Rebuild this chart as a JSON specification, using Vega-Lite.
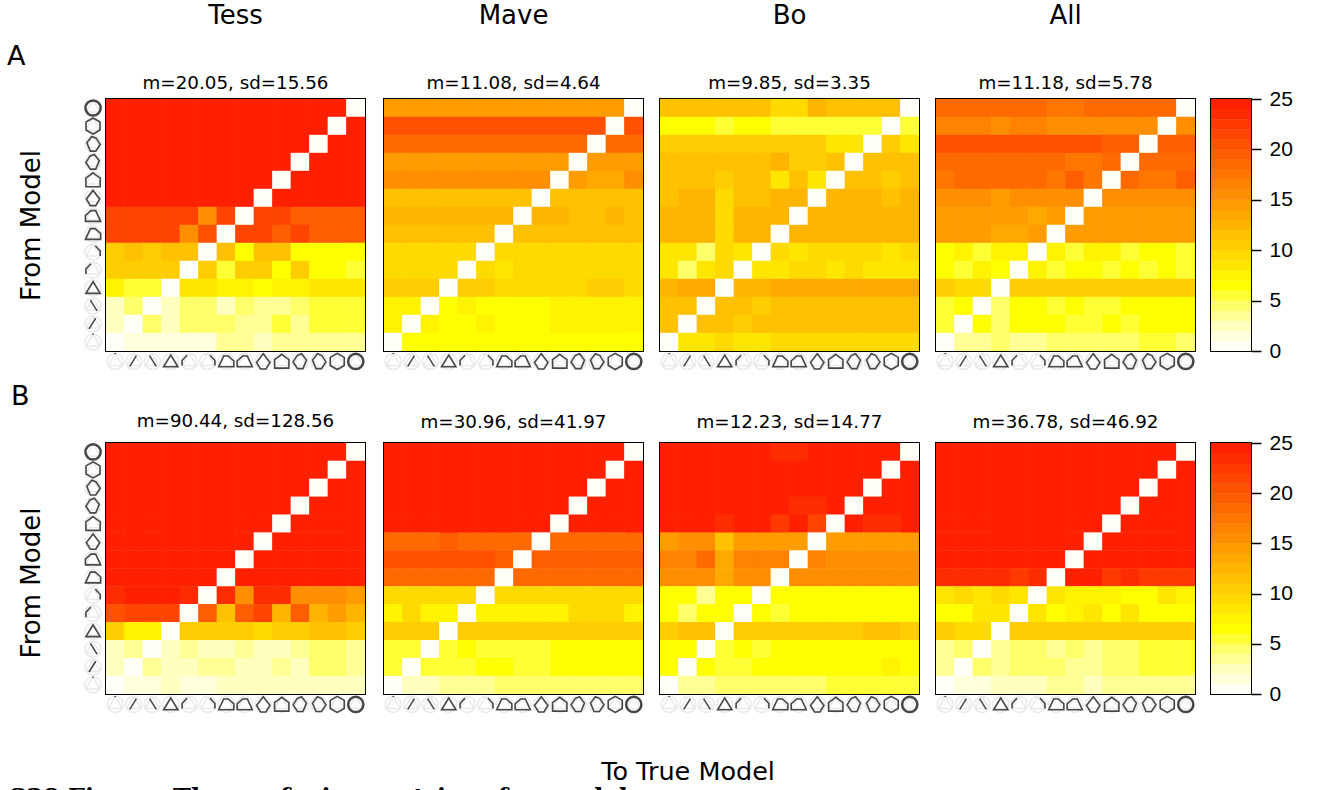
{"$schema":"https://vega.github.io/schema/vega-lite/v6.json","background":"white","padding":{"left":6,"top":1,"right":0,"bottom":0},
"config":{"view":{"stroke":"#000","strokeWidth":2},"title":{"font":"DejaVu Sans","fontWeight":"normal","fontSize":26,"subtitleFont":"DejaVu Sans","subtitleFontSize":18.3,"color":"#000","subtitleColor":"#000"},"text":{"font":"DejaVu Sans","color":"#000"},"range":{"symbol":["M0,-.95L0,-.82","M-.45,.55L.3,-.65","M-.3,-.65L.45,.55","M0,-.7L.8,.6L-.8,.6Z","M-.8,.45L-.8,-.1L-.25,-.7","M.8,.45L.8,-.1L.25,-.7","M-.85,.6L-.3,-.6L.25,-.6L.85,-.05L.85,.6Z","M.85,.6L.3,-.6L-.25,-.6L-.85,-.05L-.85,.6Z","M0,-.85L.75,.1L.3,.85L-.3,.85L-.75,.1Z","M0,-.8L.8,-.2L.8,.75L-.8,.75L-.8,-.2Z","M.15,-.85L.7,-.15L.3,.8L-.3,.8L-.8,.05L-.35,-.65Z","M-.15,-.85L-.7,-.15L-.3,.8L.3,.8L.8,.05L.35,-.65Z","M0,-.9L.78,-.45L.78,.45L0,.9L-.78,.45L-.78,-.45Z","M.9,0A.9,.9,0,1,1,-.9,0A.9,.9,0,1,1,.9,0ZM.8,0A.8,.8,0,1,1,-.8,0A.8,.8,0,1,1,.8,0Z"]}},
"datasets":{"m":[{"m":1},{"m":2},{"m":3},{"m":4},{"m":5},{"m":6},{"m":7},{"m":8},{"m":9},{"m":10},{"m":11},{"m":12},{"m":13},{"m":14}],
"bar":[{"lo":0,"hi":1},{"lo":1,"hi":2},{"lo":2,"hi":3},{"lo":3,"hi":4},{"lo":4,"hi":5},{"lo":5,"hi":6},{"lo":6,"hi":7},{"lo":7,"hi":8},{"lo":8,"hi":9},{"lo":9,"hi":10},{"lo":10,"hi":11},{"lo":11,"hi":12},{"lo":12,"hi":13},{"lo":13,"hi":14},{"lo":14,"hi":15},{"lo":15,"hi":16},{"lo":16,"hi":17},{"lo":17,"hi":18},{"lo":18,"hi":19},{"lo":19,"hi":20},{"lo":20,"hi":21},{"lo":21,"hi":22},{"lo":22,"hi":23},{"lo":23,"hi":24},{"lo":24,"hi":25}],
"a1":[
{"f":14,"t":1,"v":25},{"f":14,"t":2,"v":25},{"f":14,"t":3,"v":25},{"f":14,"t":4,"v":25},{"f":14,"t":5,"v":25},{"f":14,"t":6,"v":25},{"f":14,"t":7,"v":25},{"f":14,"t":8,"v":25},{"f":14,"t":9,"v":25},{"f":14,"t":10,"v":25},{"f":14,"t":11,"v":25},{"f":14,"t":12,"v":25},{"f":14,"t":13,"v":25},{"f":14,"t":14,"v":0},
{"f":13,"t":1,"v":25},{"f":13,"t":2,"v":25},{"f":13,"t":3,"v":25},{"f":13,"t":4,"v":25},{"f":13,"t":5,"v":25},{"f":13,"t":6,"v":25},{"f":13,"t":7,"v":25},{"f":13,"t":8,"v":25},{"f":13,"t":9,"v":25},{"f":13,"t":10,"v":25},{"f":13,"t":11,"v":25},{"f":13,"t":12,"v":25},{"f":13,"t":13,"v":0},{"f":13,"t":14,"v":25},
{"f":12,"t":1,"v":25},{"f":12,"t":2,"v":25},{"f":12,"t":3,"v":25},{"f":12,"t":4,"v":25},{"f":12,"t":5,"v":25},{"f":12,"t":6,"v":25},{"f":12,"t":7,"v":25},{"f":12,"t":8,"v":25},{"f":12,"t":9,"v":25},{"f":12,"t":10,"v":25},{"f":12,"t":11,"v":25},{"f":12,"t":12,"v":0},{"f":12,"t":13,"v":25},{"f":12,"t":14,"v":25},
{"f":11,"t":1,"v":25},{"f":11,"t":2,"v":25},{"f":11,"t":3,"v":25},{"f":11,"t":4,"v":25},{"f":11,"t":5,"v":25},{"f":11,"t":6,"v":25},{"f":11,"t":7,"v":25},{"f":11,"t":8,"v":25},{"f":11,"t":9,"v":25},{"f":11,"t":10,"v":25},{"f":11,"t":11,"v":0},{"f":11,"t":12,"v":25},{"f":11,"t":13,"v":25},{"f":11,"t":14,"v":25},
{"f":10,"t":1,"v":25},{"f":10,"t":2,"v":25},{"f":10,"t":3,"v":25},{"f":10,"t":4,"v":25},{"f":10,"t":5,"v":25},{"f":10,"t":6,"v":25},{"f":10,"t":7,"v":25},{"f":10,"t":8,"v":25},{"f":10,"t":9,"v":25},{"f":10,"t":10,"v":0},{"f":10,"t":11,"v":25},{"f":10,"t":12,"v":25},{"f":10,"t":13,"v":25},{"f":10,"t":14,"v":25},
{"f":9,"t":1,"v":25},{"f":9,"t":2,"v":25},{"f":9,"t":3,"v":25},{"f":9,"t":4,"v":25},{"f":9,"t":5,"v":25},{"f":9,"t":6,"v":25},{"f":9,"t":7,"v":25},{"f":9,"t":8,"v":25},{"f":9,"t":9,"v":0},{"f":9,"t":10,"v":25},{"f":9,"t":11,"v":25},{"f":9,"t":12,"v":25},{"f":9,"t":13,"v":25},{"f":9,"t":14,"v":25},
{"f":8,"t":1,"v":21},{"f":8,"t":2,"v":21},{"f":8,"t":3,"v":21},{"f":8,"t":4,"v":21},{"f":8,"t":5,"v":21},{"f":8,"t":6,"v":15},{"f":8,"t":7,"v":21},{"f":8,"t":8,"v":0},{"f":8,"t":9,"v":21},{"f":8,"t":10,"v":21},{"f":8,"t":11,"v":19},{"f":8,"t":12,"v":19},{"f":8,"t":13,"v":19},{"f":8,"t":14,"v":19},
{"f":7,"t":1,"v":21},{"f":7,"t":2,"v":21},{"f":7,"t":3,"v":21},{"f":7,"t":4,"v":21},{"f":7,"t":5,"v":15},{"f":7,"t":6,"v":20},{"f":7,"t":7,"v":0},{"f":7,"t":8,"v":21},{"f":7,"t":9,"v":21},{"f":7,"t":10,"v":19},{"f":7,"t":11,"v":21},{"f":7,"t":12,"v":19},{"f":7,"t":13,"v":19},{"f":7,"t":14,"v":19},
{"f":6,"t":1,"v":10},{"f":6,"t":2,"v":11},{"f":6,"t":3,"v":10},{"f":6,"t":4,"v":11},{"f":6,"t":5,"v":11},{"f":6,"t":6,"v":0},{"f":6,"t":7,"v":11},{"f":6,"t":8,"v":6},{"f":6,"t":9,"v":11},{"f":6,"t":10,"v":11},{"f":6,"t":11,"v":6},{"f":6,"t":12,"v":6},{"f":6,"t":13,"v":6},{"f":6,"t":14,"v":6},
{"f":5,"t":1,"v":10},{"f":5,"t":2,"v":10},{"f":5,"t":3,"v":10},{"f":5,"t":4,"v":10},{"f":5,"t":5,"v":0},{"f":5,"t":6,"v":10},{"f":5,"t":7,"v":5},{"f":5,"t":8,"v":10},{"f":5,"t":9,"v":10},{"f":5,"t":10,"v":6},{"f":5,"t":11,"v":10},{"f":5,"t":12,"v":6},{"f":5,"t":13,"v":6},{"f":5,"t":14,"v":5},
{"f":4,"t":1,"v":7},{"f":4,"t":2,"v":5},{"f":4,"t":3,"v":5},{"f":4,"t":4,"v":0},{"f":4,"t":5,"v":8},{"f":4,"t":6,"v":8},{"f":4,"t":7,"v":7},{"f":4,"t":8,"v":7},{"f":4,"t":9,"v":6},{"f":4,"t":10,"v":7},{"f":4,"t":11,"v":7},{"f":4,"t":12,"v":8},{"f":4,"t":13,"v":8},{"f":4,"t":14,"v":8},
{"f":3,"t":1,"v":2},{"f":3,"t":2,"v":4},{"f":3,"t":3,"v":0},{"f":3,"t":4,"v":2},{"f":3,"t":5,"v":4},{"f":3,"t":6,"v":4},{"f":3,"t":7,"v":2},{"f":3,"t":8,"v":4},{"f":3,"t":9,"v":3},{"f":3,"t":10,"v":3},{"f":3,"t":11,"v":4},{"f":3,"t":12,"v":5},{"f":3,"t":13,"v":5},{"f":3,"t":14,"v":5},
{"f":2,"t":1,"v":2},{"f":2,"t":2,"v":0},{"f":2,"t":3,"v":4},{"f":2,"t":4,"v":2},{"f":2,"t":5,"v":4},{"f":2,"t":6,"v":4},{"f":2,"t":7,"v":4},{"f":2,"t":8,"v":3},{"f":2,"t":9,"v":3},{"f":2,"t":10,"v":5},{"f":2,"t":11,"v":3},{"f":2,"t":12,"v":5},{"f":2,"t":13,"v":5},{"f":2,"t":14,"v":5},
{"f":1,"t":1,"v":0},{"f":1,"t":2,"v":1},{"f":1,"t":3,"v":1},{"f":1,"t":4,"v":1},{"f":1,"t":5,"v":1},{"f":1,"t":6,"v":1},{"f":1,"t":7,"v":3},{"f":1,"t":8,"v":3},{"f":1,"t":9,"v":2},{"f":1,"t":10,"v":3},{"f":1,"t":11,"v":3},{"f":1,"t":12,"v":3},{"f":1,"t":13,"v":3},{"f":1,"t":14,"v":3}],
"a2":[
{"f":14,"t":1,"v":14},{"f":14,"t":2,"v":14},{"f":14,"t":3,"v":14},{"f":14,"t":4,"v":14},{"f":14,"t":5,"v":14},{"f":14,"t":6,"v":14},{"f":14,"t":7,"v":14},{"f":14,"t":8,"v":14},{"f":14,"t":9,"v":14},{"f":14,"t":10,"v":14},{"f":14,"t":11,"v":14},{"f":14,"t":12,"v":14},{"f":14,"t":13,"v":14},{"f":14,"t":14,"v":0},
{"f":13,"t":1,"v":20},{"f":13,"t":2,"v":20},{"f":13,"t":3,"v":20},{"f":13,"t":4,"v":20},{"f":13,"t":5,"v":20},{"f":13,"t":6,"v":20},{"f":13,"t":7,"v":20},{"f":13,"t":8,"v":20},{"f":13,"t":9,"v":20},{"f":13,"t":10,"v":20},{"f":13,"t":11,"v":20},{"f":13,"t":12,"v":20},{"f":13,"t":13,"v":0},{"f":13,"t":14,"v":20},
{"f":12,"t":1,"v":18},{"f":12,"t":2,"v":18},{"f":12,"t":3,"v":18},{"f":12,"t":4,"v":18},{"f":12,"t":5,"v":18},{"f":12,"t":6,"v":18},{"f":12,"t":7,"v":18},{"f":12,"t":8,"v":18},{"f":12,"t":9,"v":18},{"f":12,"t":10,"v":18},{"f":12,"t":11,"v":18},{"f":12,"t":12,"v":0},{"f":12,"t":13,"v":18},{"f":12,"t":14,"v":18},
{"f":11,"t":1,"v":14},{"f":11,"t":2,"v":14},{"f":11,"t":3,"v":14},{"f":11,"t":4,"v":14},{"f":11,"t":5,"v":14},{"f":11,"t":6,"v":14},{"f":11,"t":7,"v":14},{"f":11,"t":8,"v":14},{"f":11,"t":9,"v":14},{"f":11,"t":10,"v":14},{"f":11,"t":11,"v":0},{"f":11,"t":12,"v":14},{"f":11,"t":13,"v":14},{"f":11,"t":14,"v":14},
{"f":10,"t":1,"v":15},{"f":10,"t":2,"v":15},{"f":10,"t":3,"v":15},{"f":10,"t":4,"v":15},{"f":10,"t":5,"v":15},{"f":10,"t":6,"v":15},{"f":10,"t":7,"v":15},{"f":10,"t":8,"v":15},{"f":10,"t":9,"v":15},{"f":10,"t":10,"v":0},{"f":10,"t":11,"v":14},{"f":10,"t":12,"v":13},{"f":10,"t":13,"v":13},{"f":10,"t":14,"v":15},
{"f":9,"t":1,"v":11},{"f":9,"t":2,"v":11},{"f":9,"t":3,"v":11},{"f":9,"t":4,"v":11},{"f":9,"t":5,"v":11},{"f":9,"t":6,"v":11},{"f":9,"t":7,"v":11},{"f":9,"t":8,"v":11},{"f":9,"t":9,"v":0},{"f":9,"t":10,"v":11},{"f":9,"t":11,"v":11},{"f":9,"t":12,"v":11},{"f":9,"t":13,"v":11},{"f":9,"t":14,"v":11},
{"f":8,"t":1,"v":12},{"f":8,"t":2,"v":12},{"f":8,"t":3,"v":12},{"f":8,"t":4,"v":12},{"f":8,"t":5,"v":12},{"f":8,"t":6,"v":12},{"f":8,"t":7,"v":12},{"f":8,"t":8,"v":0},{"f":8,"t":9,"v":12},{"f":8,"t":10,"v":12},{"f":8,"t":11,"v":11},{"f":8,"t":12,"v":11},{"f":8,"t":13,"v":12},{"f":8,"t":14,"v":11},
{"f":7,"t":1,"v":11},{"f":7,"t":2,"v":11},{"f":7,"t":3,"v":11},{"f":7,"t":4,"v":11},{"f":7,"t":5,"v":11},{"f":7,"t":6,"v":11},{"f":7,"t":7,"v":0},{"f":7,"t":8,"v":11},{"f":7,"t":9,"v":11},{"f":7,"t":10,"v":11},{"f":7,"t":11,"v":11},{"f":7,"t":12,"v":11},{"f":7,"t":13,"v":11},{"f":7,"t":14,"v":11},
{"f":6,"t":1,"v":9},{"f":6,"t":2,"v":9},{"f":6,"t":3,"v":9},{"f":6,"t":4,"v":9},{"f":6,"t":5,"v":9},{"f":6,"t":6,"v":0},{"f":6,"t":7,"v":9},{"f":6,"t":8,"v":9},{"f":6,"t":9,"v":9},{"f":6,"t":10,"v":9},{"f":6,"t":11,"v":9},{"f":6,"t":12,"v":9},{"f":6,"t":13,"v":9},{"f":6,"t":14,"v":9},
{"f":5,"t":1,"v":9},{"f":5,"t":2,"v":9},{"f":5,"t":3,"v":9},{"f":5,"t":4,"v":9},{"f":5,"t":5,"v":0},{"f":5,"t":6,"v":9},{"f":5,"t":7,"v":8},{"f":5,"t":8,"v":9},{"f":5,"t":9,"v":9},{"f":5,"t":10,"v":9},{"f":5,"t":11,"v":9},{"f":5,"t":12,"v":9},{"f":5,"t":13,"v":9},{"f":5,"t":14,"v":9},
{"f":4,"t":1,"v":10},{"f":4,"t":2,"v":10},{"f":4,"t":3,"v":10},{"f":4,"t":4,"v":0},{"f":4,"t":5,"v":10},{"f":4,"t":6,"v":10},{"f":4,"t":7,"v":9},{"f":4,"t":8,"v":9},{"f":4,"t":9,"v":9},{"f":4,"t":10,"v":9},{"f":4,"t":11,"v":9},{"f":4,"t":12,"v":10},{"f":4,"t":13,"v":10},{"f":4,"t":14,"v":9},
{"f":3,"t":1,"v":7},{"f":3,"t":2,"v":7},{"f":3,"t":3,"v":0},{"f":3,"t":4,"v":6},{"f":3,"t":5,"v":7},{"f":3,"t":6,"v":6},{"f":3,"t":7,"v":6},{"f":3,"t":8,"v":6},{"f":3,"t":9,"v":6},{"f":3,"t":10,"v":7},{"f":3,"t":11,"v":7},{"f":3,"t":12,"v":7},{"f":3,"t":13,"v":7},{"f":3,"t":14,"v":7},
{"f":2,"t":1,"v":7},{"f":2,"t":2,"v":0},{"f":2,"t":3,"v":7},{"f":2,"t":4,"v":6},{"f":2,"t":5,"v":6},{"f":2,"t":6,"v":7},{"f":2,"t":7,"v":6},{"f":2,"t":8,"v":6},{"f":2,"t":9,"v":6},{"f":2,"t":10,"v":7},{"f":2,"t":11,"v":7},{"f":2,"t":12,"v":7},{"f":2,"t":13,"v":7},{"f":2,"t":14,"v":7},
{"f":1,"t":1,"v":0},{"f":1,"t":2,"v":6},{"f":1,"t":3,"v":6},{"f":1,"t":4,"v":6},{"f":1,"t":5,"v":6},{"f":1,"t":6,"v":6},{"f":1,"t":7,"v":6},{"f":1,"t":8,"v":6},{"f":1,"t":9,"v":6},{"f":1,"t":10,"v":6},{"f":1,"t":11,"v":6},{"f":1,"t":12,"v":6},{"f":1,"t":13,"v":6},{"f":1,"t":14,"v":6}],
"a3":[
{"f":14,"t":1,"v":11},{"f":14,"t":2,"v":11},{"f":14,"t":3,"v":11},{"f":14,"t":4,"v":11},{"f":14,"t":5,"v":11},{"f":14,"t":6,"v":11},{"f":14,"t":7,"v":9},{"f":14,"t":8,"v":9},{"f":14,"t":9,"v":12},{"f":14,"t":10,"v":11},{"f":14,"t":11,"v":11},{"f":14,"t":12,"v":11},{"f":14,"t":13,"v":11},{"f":14,"t":14,"v":0},
{"f":13,"t":1,"v":6},{"f":13,"t":2,"v":6},{"f":13,"t":3,"v":6},{"f":13,"t":4,"v":5},{"f":13,"t":5,"v":6},{"f":13,"t":6,"v":6},{"f":13,"t":7,"v":5},{"f":13,"t":8,"v":5},{"f":13,"t":9,"v":5},{"f":13,"t":10,"v":5},{"f":13,"t":11,"v":5},{"f":13,"t":12,"v":5},{"f":13,"t":13,"v":0},{"f":13,"t":14,"v":5},
{"f":12,"t":1,"v":10},{"f":12,"t":2,"v":10},{"f":12,"t":3,"v":10},{"f":12,"t":4,"v":10},{"f":12,"t":5,"v":10},{"f":12,"t":6,"v":10},{"f":12,"t":7,"v":10},{"f":12,"t":8,"v":10},{"f":12,"t":9,"v":10},{"f":12,"t":10,"v":8},{"f":12,"t":11,"v":8},{"f":12,"t":12,"v":0},{"f":12,"t":13,"v":10},{"f":12,"t":14,"v":8},
{"f":11,"t":1,"v":11},{"f":11,"t":2,"v":11},{"f":11,"t":3,"v":11},{"f":11,"t":4,"v":11},{"f":11,"t":5,"v":11},{"f":11,"t":6,"v":11},{"f":11,"t":7,"v":12},{"f":11,"t":8,"v":10},{"f":11,"t":9,"v":10},{"f":11,"t":10,"v":11},{"f":11,"t":11,"v":0},{"f":11,"t":12,"v":11},{"f":11,"t":13,"v":11},{"f":11,"t":14,"v":11},
{"f":10,"t":1,"v":11},{"f":10,"t":2,"v":11},{"f":10,"t":3,"v":11},{"f":10,"t":4,"v":10},{"f":10,"t":5,"v":11},{"f":10,"t":6,"v":11},{"f":10,"t":7,"v":8},{"f":10,"t":8,"v":11},{"f":10,"t":9,"v":8},{"f":10,"t":10,"v":0},{"f":10,"t":11,"v":11},{"f":10,"t":12,"v":11},{"f":10,"t":13,"v":10},{"f":10,"t":14,"v":11},
{"f":9,"t":1,"v":11},{"f":9,"t":2,"v":12},{"f":9,"t":3,"v":12},{"f":9,"t":4,"v":9},{"f":9,"t":5,"v":11},{"f":9,"t":6,"v":11},{"f":9,"t":7,"v":12},{"f":9,"t":8,"v":12},{"f":9,"t":9,"v":0},{"f":9,"t":10,"v":12},{"f":9,"t":11,"v":12},{"f":9,"t":12,"v":12},{"f":9,"t":13,"v":11},{"f":9,"t":14,"v":12},
{"f":8,"t":1,"v":12},{"f":8,"t":2,"v":12},{"f":8,"t":3,"v":12},{"f":8,"t":4,"v":9},{"f":8,"t":5,"v":12},{"f":8,"t":6,"v":12},{"f":8,"t":7,"v":12},{"f":8,"t":8,"v":0},{"f":8,"t":9,"v":12},{"f":8,"t":10,"v":12},{"f":8,"t":11,"v":12},{"f":8,"t":12,"v":12},{"f":8,"t":13,"v":12},{"f":8,"t":14,"v":12},
{"f":7,"t":1,"v":12},{"f":7,"t":2,"v":12},{"f":7,"t":3,"v":12},{"f":7,"t":4,"v":9},{"f":7,"t":5,"v":12},{"f":7,"t":6,"v":12},{"f":7,"t":7,"v":0},{"f":7,"t":8,"v":12},{"f":7,"t":9,"v":12},{"f":7,"t":10,"v":12},{"f":7,"t":11,"v":12},{"f":7,"t":12,"v":12},{"f":7,"t":13,"v":12},{"f":7,"t":14,"v":12},
{"f":6,"t":1,"v":8},{"f":6,"t":2,"v":8},{"f":6,"t":3,"v":4},{"f":6,"t":4,"v":9},{"f":6,"t":5,"v":8},{"f":6,"t":6,"v":0},{"f":6,"t":7,"v":9},{"f":6,"t":8,"v":8},{"f":6,"t":9,"v":9},{"f":6,"t":10,"v":9},{"f":6,"t":11,"v":9},{"f":6,"t":12,"v":9},{"f":6,"t":13,"v":8},{"f":6,"t":14,"v":9},
{"f":5,"t":1,"v":8},{"f":5,"t":2,"v":4},{"f":5,"t":3,"v":8},{"f":5,"t":4,"v":9},{"f":5,"t":5,"v":0},{"f":5,"t":6,"v":8},{"f":5,"t":7,"v":8},{"f":5,"t":8,"v":9},{"f":5,"t":9,"v":9},{"f":5,"t":10,"v":8},{"f":5,"t":11,"v":9},{"f":5,"t":12,"v":8},{"f":5,"t":13,"v":8},{"f":5,"t":14,"v":8},
{"f":4,"t":1,"v":12},{"f":4,"t":2,"v":13},{"f":4,"t":3,"v":13},{"f":4,"t":4,"v":0},{"f":4,"t":5,"v":12},{"f":4,"t":6,"v":12},{"f":4,"t":7,"v":13},{"f":4,"t":8,"v":13},{"f":4,"t":9,"v":13},{"f":4,"t":10,"v":13},{"f":4,"t":11,"v":13},{"f":4,"t":12,"v":13},{"f":4,"t":13,"v":13},{"f":4,"t":14,"v":13},
{"f":3,"t":1,"v":11},{"f":3,"t":2,"v":11},{"f":3,"t":3,"v":0},{"f":3,"t":4,"v":11},{"f":3,"t":5,"v":11},{"f":3,"t":6,"v":10},{"f":3,"t":7,"v":11},{"f":3,"t":8,"v":11},{"f":3,"t":9,"v":11},{"f":3,"t":10,"v":11},{"f":3,"t":11,"v":11},{"f":3,"t":12,"v":11},{"f":3,"t":13,"v":11},{"f":3,"t":14,"v":11},
{"f":2,"t":1,"v":11},{"f":2,"t":2,"v":0},{"f":2,"t":3,"v":11},{"f":2,"t":4,"v":11},{"f":2,"t":5,"v":10},{"f":2,"t":6,"v":11},{"f":2,"t":7,"v":11},{"f":2,"t":8,"v":11},{"f":2,"t":9,"v":11},{"f":2,"t":10,"v":11},{"f":2,"t":11,"v":11},{"f":2,"t":12,"v":11},{"f":2,"t":13,"v":11},{"f":2,"t":14,"v":11},
{"f":1,"t":1,"v":0},{"f":1,"t":2,"v":8},{"f":1,"t":3,"v":8},{"f":1,"t":4,"v":9},{"f":1,"t":5,"v":8},{"f":1,"t":6,"v":8},{"f":1,"t":7,"v":9},{"f":1,"t":8,"v":9},{"f":1,"t":9,"v":9},{"f":1,"t":10,"v":9},{"f":1,"t":11,"v":9},{"f":1,"t":12,"v":9},{"f":1,"t":13,"v":9},{"f":1,"t":14,"v":9}],
"a4":[
{"f":14,"t":1,"v":18},{"f":14,"t":2,"v":18},{"f":14,"t":3,"v":18},{"f":14,"t":4,"v":18},{"f":14,"t":5,"v":18},{"f":14,"t":6,"v":18},{"f":14,"t":7,"v":17},{"f":14,"t":8,"v":17},{"f":14,"t":9,"v":18},{"f":14,"t":10,"v":18},{"f":14,"t":11,"v":18},{"f":14,"t":12,"v":18},{"f":14,"t":13,"v":18},{"f":14,"t":14,"v":0},
{"f":13,"t":1,"v":16},{"f":13,"t":2,"v":16},{"f":13,"t":3,"v":16},{"f":13,"t":4,"v":15},{"f":13,"t":5,"v":16},{"f":13,"t":6,"v":16},{"f":13,"t":7,"v":15},{"f":13,"t":8,"v":15},{"f":13,"t":9,"v":15},{"f":13,"t":10,"v":15},{"f":13,"t":11,"v":15},{"f":13,"t":12,"v":15},{"f":13,"t":13,"v":0},{"f":13,"t":14,"v":15},
{"f":12,"t":1,"v":20},{"f":12,"t":2,"v":20},{"f":12,"t":3,"v":20},{"f":12,"t":4,"v":20},{"f":12,"t":5,"v":20},{"f":12,"t":6,"v":20},{"f":12,"t":7,"v":20},{"f":12,"t":8,"v":20},{"f":12,"t":9,"v":20},{"f":12,"t":10,"v":19},{"f":12,"t":11,"v":19},{"f":12,"t":12,"v":0},{"f":12,"t":13,"v":19},{"f":12,"t":14,"v":19},
{"f":11,"t":1,"v":18},{"f":11,"t":2,"v":18},{"f":11,"t":3,"v":18},{"f":11,"t":4,"v":18},{"f":11,"t":5,"v":18},{"f":11,"t":6,"v":18},{"f":11,"t":7,"v":18},{"f":11,"t":8,"v":17},{"f":11,"t":9,"v":17},{"f":11,"t":10,"v":18},{"f":11,"t":11,"v":0},{"f":11,"t":12,"v":18},{"f":11,"t":13,"v":18},{"f":11,"t":14,"v":18},
{"f":10,"t":1,"v":17},{"f":10,"t":2,"v":18},{"f":10,"t":3,"v":18},{"f":10,"t":4,"v":18},{"f":10,"t":5,"v":18},{"f":10,"t":6,"v":18},{"f":10,"t":7,"v":17},{"f":10,"t":8,"v":19},{"f":10,"t":9,"v":17},{"f":10,"t":10,"v":0},{"f":10,"t":11,"v":18},{"f":10,"t":12,"v":17},{"f":10,"t":13,"v":17},{"f":10,"t":14,"v":19},
{"f":9,"t":1,"v":15},{"f":9,"t":2,"v":15},{"f":9,"t":3,"v":15},{"f":9,"t":4,"v":14},{"f":9,"t":5,"v":15},{"f":9,"t":6,"v":15},{"f":9,"t":7,"v":15},{"f":9,"t":8,"v":15},{"f":9,"t":9,"v":0},{"f":9,"t":10,"v":15},{"f":9,"t":11,"v":15},{"f":9,"t":12,"v":15},{"f":9,"t":13,"v":15},{"f":9,"t":14,"v":15},
{"f":8,"t":1,"v":14},{"f":8,"t":2,"v":14},{"f":8,"t":3,"v":14},{"f":8,"t":4,"v":14},{"f":8,"t":5,"v":14},{"f":8,"t":6,"v":13},{"f":8,"t":7,"v":14},{"f":8,"t":8,"v":0},{"f":8,"t":9,"v":14},{"f":8,"t":10,"v":14},{"f":8,"t":11,"v":14},{"f":8,"t":12,"v":14},{"f":8,"t":13,"v":14},{"f":8,"t":14,"v":14},
{"f":7,"t":1,"v":14},{"f":7,"t":2,"v":14},{"f":7,"t":3,"v":14},{"f":7,"t":4,"v":13},{"f":7,"t":5,"v":13},{"f":7,"t":6,"v":14},{"f":7,"t":7,"v":0},{"f":7,"t":8,"v":14},{"f":7,"t":9,"v":14},{"f":7,"t":10,"v":14},{"f":7,"t":11,"v":14},{"f":7,"t":12,"v":14},{"f":7,"t":13,"v":14},{"f":7,"t":14,"v":14},
{"f":6,"t":1,"v":6},{"f":6,"t":2,"v":7},{"f":6,"t":3,"v":5},{"f":6,"t":4,"v":7},{"f":6,"t":5,"v":7},{"f":6,"t":6,"v":0},{"f":6,"t":7,"v":7},{"f":6,"t":8,"v":5},{"f":6,"t":9,"v":7},{"f":6,"t":10,"v":7},{"f":6,"t":11,"v":5},{"f":6,"t":12,"v":6},{"f":6,"t":13,"v":6},{"f":6,"t":14,"v":5},
{"f":5,"t":1,"v":6},{"f":5,"t":2,"v":5},{"f":5,"t":3,"v":7},{"f":5,"t":4,"v":6},{"f":5,"t":5,"v":0},{"f":5,"t":6,"v":7},{"f":5,"t":7,"v":5},{"f":5,"t":8,"v":6},{"f":5,"t":9,"v":6},{"f":5,"t":10,"v":5},{"f":5,"t":11,"v":6},{"f":5,"t":12,"v":5},{"f":5,"t":13,"v":6},{"f":5,"t":14,"v":5},
{"f":4,"t":1,"v":10},{"f":4,"t":2,"v":9},{"f":4,"t":3,"v":9},{"f":4,"t":4,"v":0},{"f":4,"t":5,"v":10},{"f":4,"t":6,"v":10},{"f":4,"t":7,"v":10},{"f":4,"t":8,"v":10},{"f":4,"t":9,"v":10},{"f":4,"t":10,"v":10},{"f":4,"t":11,"v":10},{"f":4,"t":12,"v":10},{"f":4,"t":13,"v":10},{"f":4,"t":14,"v":10},
{"f":3,"t":1,"v":5},{"f":3,"t":2,"v":6},{"f":3,"t":3,"v":0},{"f":3,"t":4,"v":4},{"f":3,"t":5,"v":6},{"f":3,"t":6,"v":6},{"f":3,"t":7,"v":5},{"f":3,"t":8,"v":6},{"f":3,"t":9,"v":5},{"f":3,"t":10,"v":5},{"f":3,"t":11,"v":6},{"f":3,"t":12,"v":6},{"f":3,"t":13,"v":6},{"f":3,"t":14,"v":6},
{"f":2,"t":1,"v":5},{"f":2,"t":2,"v":0},{"f":2,"t":3,"v":6},{"f":2,"t":4,"v":4},{"f":2,"t":5,"v":6},{"f":2,"t":6,"v":6},{"f":2,"t":7,"v":6},{"f":2,"t":8,"v":5},{"f":2,"t":9,"v":5},{"f":2,"t":10,"v":6},{"f":2,"t":11,"v":5},{"f":2,"t":12,"v":6},{"f":2,"t":13,"v":6},{"f":2,"t":14,"v":6},
{"f":1,"t":1,"v":0},{"f":1,"t":2,"v":3},{"f":1,"t":3,"v":3},{"f":1,"t":4,"v":4},{"f":1,"t":5,"v":3},{"f":1,"t":6,"v":3},{"f":1,"t":7,"v":4},{"f":1,"t":8,"v":4},{"f":1,"t":9,"v":4},{"f":1,"t":10,"v":4},{"f":1,"t":11,"v":4},{"f":1,"t":12,"v":5},{"f":1,"t":13,"v":5},{"f":1,"t":14,"v":4}],
"b1":[
{"f":14,"t":1,"v":25},{"f":14,"t":2,"v":25},{"f":14,"t":3,"v":25},{"f":14,"t":4,"v":25},{"f":14,"t":5,"v":25},{"f":14,"t":6,"v":25},{"f":14,"t":7,"v":25},{"f":14,"t":8,"v":25},{"f":14,"t":9,"v":25},{"f":14,"t":10,"v":25},{"f":14,"t":11,"v":25},{"f":14,"t":12,"v":25},{"f":14,"t":13,"v":25},{"f":14,"t":14,"v":0},
{"f":13,"t":1,"v":25},{"f":13,"t":2,"v":25},{"f":13,"t":3,"v":25},{"f":13,"t":4,"v":25},{"f":13,"t":5,"v":25},{"f":13,"t":6,"v":25},{"f":13,"t":7,"v":25},{"f":13,"t":8,"v":25},{"f":13,"t":9,"v":25},{"f":13,"t":10,"v":25},{"f":13,"t":11,"v":25},{"f":13,"t":12,"v":25},{"f":13,"t":13,"v":0},{"f":13,"t":14,"v":25},
{"f":12,"t":1,"v":25},{"f":12,"t":2,"v":25},{"f":12,"t":3,"v":25},{"f":12,"t":4,"v":25},{"f":12,"t":5,"v":25},{"f":12,"t":6,"v":25},{"f":12,"t":7,"v":25},{"f":12,"t":8,"v":25},{"f":12,"t":9,"v":25},{"f":12,"t":10,"v":25},{"f":12,"t":11,"v":25},{"f":12,"t":12,"v":0},{"f":12,"t":13,"v":25},{"f":12,"t":14,"v":25},
{"f":11,"t":1,"v":25},{"f":11,"t":2,"v":25},{"f":11,"t":3,"v":25},{"f":11,"t":4,"v":25},{"f":11,"t":5,"v":25},{"f":11,"t":6,"v":25},{"f":11,"t":7,"v":25},{"f":11,"t":8,"v":25},{"f":11,"t":9,"v":25},{"f":11,"t":10,"v":25},{"f":11,"t":11,"v":0},{"f":11,"t":12,"v":25},{"f":11,"t":13,"v":25},{"f":11,"t":14,"v":25},
{"f":10,"t":1,"v":25},{"f":10,"t":2,"v":25},{"f":10,"t":3,"v":25},{"f":10,"t":4,"v":25},{"f":10,"t":5,"v":25},{"f":10,"t":6,"v":25},{"f":10,"t":7,"v":25},{"f":10,"t":8,"v":25},{"f":10,"t":9,"v":25},{"f":10,"t":10,"v":0},{"f":10,"t":11,"v":25},{"f":10,"t":12,"v":25},{"f":10,"t":13,"v":25},{"f":10,"t":14,"v":25},
{"f":9,"t":1,"v":25},{"f":9,"t":2,"v":25},{"f":9,"t":3,"v":25},{"f":9,"t":4,"v":25},{"f":9,"t":5,"v":25},{"f":9,"t":6,"v":25},{"f":9,"t":7,"v":25},{"f":9,"t":8,"v":25},{"f":9,"t":9,"v":0},{"f":9,"t":10,"v":25},{"f":9,"t":11,"v":25},{"f":9,"t":12,"v":25},{"f":9,"t":13,"v":25},{"f":9,"t":14,"v":25},
{"f":8,"t":1,"v":25},{"f":8,"t":2,"v":25},{"f":8,"t":3,"v":25},{"f":8,"t":4,"v":25},{"f":8,"t":5,"v":25},{"f":8,"t":6,"v":25},{"f":8,"t":7,"v":25},{"f":8,"t":8,"v":0},{"f":8,"t":9,"v":25},{"f":8,"t":10,"v":25},{"f":8,"t":11,"v":25},{"f":8,"t":12,"v":25},{"f":8,"t":13,"v":25},{"f":8,"t":14,"v":25},
{"f":7,"t":1,"v":25},{"f":7,"t":2,"v":25},{"f":7,"t":3,"v":25},{"f":7,"t":4,"v":25},{"f":7,"t":5,"v":25},{"f":7,"t":6,"v":25},{"f":7,"t":7,"v":0},{"f":7,"t":8,"v":25},{"f":7,"t":9,"v":25},{"f":7,"t":10,"v":25},{"f":7,"t":11,"v":25},{"f":7,"t":12,"v":25},{"f":7,"t":13,"v":25},{"f":7,"t":14,"v":25},
{"f":6,"t":1,"v":23},{"f":6,"t":2,"v":25},{"f":6,"t":3,"v":25},{"f":6,"t":4,"v":25},{"f":6,"t":5,"v":23},{"f":6,"t":6,"v":0},{"f":6,"t":7,"v":23},{"f":6,"t":8,"v":15},{"f":6,"t":9,"v":23},{"f":6,"t":10,"v":23},{"f":6,"t":11,"v":15},{"f":6,"t":12,"v":15},{"f":6,"t":13,"v":15},{"f":6,"t":14,"v":14},
{"f":5,"t":1,"v":20},{"f":5,"t":2,"v":21},{"f":5,"t":3,"v":21},{"f":5,"t":4,"v":21},{"f":5,"t":5,"v":0},{"f":5,"t":6,"v":19},{"f":5,"t":7,"v":11},{"f":5,"t":8,"v":19},{"f":5,"t":9,"v":21},{"f":5,"t":10,"v":12},{"f":5,"t":11,"v":19},{"f":5,"t":12,"v":12},{"f":5,"t":13,"v":14},{"f":5,"t":14,"v":12},
{"f":4,"t":1,"v":10},{"f":4,"t":2,"v":7},{"f":4,"t":3,"v":7},{"f":4,"t":4,"v":0},{"f":4,"t":5,"v":10},{"f":4,"t":6,"v":10},{"f":4,"t":7,"v":10},{"f":4,"t":8,"v":10},{"f":4,"t":9,"v":9},{"f":4,"t":10,"v":10},{"f":4,"t":11,"v":10},{"f":4,"t":12,"v":11},{"f":4,"t":13,"v":11},{"f":4,"t":14,"v":10},
{"f":3,"t":1,"v":2},{"f":3,"t":2,"v":3},{"f":3,"t":3,"v":0},{"f":3,"t":4,"v":2},{"f":3,"t":5,"v":3},{"f":3,"t":6,"v":2},{"f":3,"t":7,"v":2},{"f":3,"t":8,"v":3},{"f":3,"t":9,"v":2},{"f":3,"t":10,"v":2},{"f":3,"t":11,"v":3},{"f":3,"t":12,"v":4},{"f":3,"t":13,"v":4},{"f":3,"t":14,"v":3},
{"f":2,"t":1,"v":2},{"f":2,"t":2,"v":0},{"f":2,"t":3,"v":3},{"f":2,"t":4,"v":2},{"f":2,"t":5,"v":2},{"f":2,"t":6,"v":3},{"f":2,"t":7,"v":3},{"f":2,"t":8,"v":2},{"f":2,"t":9,"v":2},{"f":2,"t":10,"v":3},{"f":2,"t":11,"v":2},{"f":2,"t":12,"v":4},{"f":2,"t":13,"v":4},{"f":2,"t":14,"v":3},
{"f":1,"t":1,"v":0},{"f":1,"t":2,"v":1},{"f":1,"t":3,"v":1},{"f":1,"t":4,"v":2},{"f":1,"t":5,"v":1},{"f":1,"t":6,"v":1},{"f":1,"t":7,"v":2},{"f":1,"t":8,"v":2},{"f":1,"t":9,"v":2},{"f":1,"t":10,"v":2},{"f":1,"t":11,"v":2},{"f":1,"t":12,"v":2},{"f":1,"t":13,"v":2},{"f":1,"t":14,"v":2}],
"b2":[
{"f":14,"t":1,"v":25},{"f":14,"t":2,"v":25},{"f":14,"t":3,"v":25},{"f":14,"t":4,"v":25},{"f":14,"t":5,"v":25},{"f":14,"t":6,"v":25},{"f":14,"t":7,"v":25},{"f":14,"t":8,"v":25},{"f":14,"t":9,"v":25},{"f":14,"t":10,"v":25},{"f":14,"t":11,"v":25},{"f":14,"t":12,"v":25},{"f":14,"t":13,"v":25},{"f":14,"t":14,"v":0},
{"f":13,"t":1,"v":25},{"f":13,"t":2,"v":25},{"f":13,"t":3,"v":25},{"f":13,"t":4,"v":25},{"f":13,"t":5,"v":25},{"f":13,"t":6,"v":25},{"f":13,"t":7,"v":25},{"f":13,"t":8,"v":25},{"f":13,"t":9,"v":25},{"f":13,"t":10,"v":25},{"f":13,"t":11,"v":25},{"f":13,"t":12,"v":25},{"f":13,"t":13,"v":0},{"f":13,"t":14,"v":25},
{"f":12,"t":1,"v":25},{"f":12,"t":2,"v":25},{"f":12,"t":3,"v":25},{"f":12,"t":4,"v":25},{"f":12,"t":5,"v":25},{"f":12,"t":6,"v":25},{"f":12,"t":7,"v":25},{"f":12,"t":8,"v":25},{"f":12,"t":9,"v":25},{"f":12,"t":10,"v":25},{"f":12,"t":11,"v":25},{"f":12,"t":12,"v":0},{"f":12,"t":13,"v":25},{"f":12,"t":14,"v":25},
{"f":11,"t":1,"v":25},{"f":11,"t":2,"v":25},{"f":11,"t":3,"v":25},{"f":11,"t":4,"v":25},{"f":11,"t":5,"v":25},{"f":11,"t":6,"v":25},{"f":11,"t":7,"v":25},{"f":11,"t":8,"v":25},{"f":11,"t":9,"v":25},{"f":11,"t":10,"v":25},{"f":11,"t":11,"v":0},{"f":11,"t":12,"v":25},{"f":11,"t":13,"v":25},{"f":11,"t":14,"v":25},
{"f":10,"t":1,"v":25},{"f":10,"t":2,"v":25},{"f":10,"t":3,"v":25},{"f":10,"t":4,"v":25},{"f":10,"t":5,"v":25},{"f":10,"t":6,"v":25},{"f":10,"t":7,"v":25},{"f":10,"t":8,"v":25},{"f":10,"t":9,"v":25},{"f":10,"t":10,"v":0},{"f":10,"t":11,"v":25},{"f":10,"t":12,"v":25},{"f":10,"t":13,"v":25},{"f":10,"t":14,"v":25},
{"f":9,"t":1,"v":18},{"f":9,"t":2,"v":18},{"f":9,"t":3,"v":18},{"f":9,"t":4,"v":19},{"f":9,"t":5,"v":18},{"f":9,"t":6,"v":18},{"f":9,"t":7,"v":18},{"f":9,"t":8,"v":18},{"f":9,"t":9,"v":0},{"f":9,"t":10,"v":18},{"f":9,"t":11,"v":18},{"f":9,"t":12,"v":18},{"f":9,"t":13,"v":18},{"f":9,"t":14,"v":18},
{"f":8,"t":1,"v":20},{"f":8,"t":2,"v":20},{"f":8,"t":3,"v":20},{"f":8,"t":4,"v":20},{"f":8,"t":5,"v":20},{"f":8,"t":6,"v":20},{"f":8,"t":7,"v":19},{"f":8,"t":8,"v":0},{"f":8,"t":9,"v":19},{"f":8,"t":10,"v":19},{"f":8,"t":11,"v":19},{"f":8,"t":12,"v":19},{"f":8,"t":13,"v":19},{"f":8,"t":14,"v":19},
{"f":7,"t":1,"v":18},{"f":7,"t":2,"v":18},{"f":7,"t":3,"v":18},{"f":7,"t":4,"v":18},{"f":7,"t":5,"v":18},{"f":7,"t":6,"v":18},{"f":7,"t":7,"v":0},{"f":7,"t":8,"v":18},{"f":7,"t":9,"v":18},{"f":7,"t":10,"v":18},{"f":7,"t":11,"v":18},{"f":7,"t":12,"v":18},{"f":7,"t":13,"v":18},{"f":7,"t":14,"v":18},
{"f":6,"t":1,"v":9},{"f":6,"t":2,"v":9},{"f":6,"t":3,"v":9},{"f":6,"t":4,"v":9},{"f":6,"t":5,"v":9},{"f":6,"t":6,"v":0},{"f":6,"t":7,"v":9},{"f":6,"t":8,"v":9},{"f":6,"t":9,"v":9},{"f":6,"t":10,"v":9},{"f":6,"t":11,"v":9},{"f":6,"t":12,"v":9},{"f":6,"t":13,"v":9},{"f":6,"t":14,"v":9},
{"f":5,"t":1,"v":7},{"f":5,"t":2,"v":9},{"f":5,"t":3,"v":7},{"f":5,"t":4,"v":7},{"f":5,"t":5,"v":0},{"f":5,"t":6,"v":7},{"f":5,"t":7,"v":7},{"f":5,"t":8,"v":7},{"f":5,"t":9,"v":7},{"f":5,"t":10,"v":7},{"f":5,"t":11,"v":9},{"f":5,"t":12,"v":9},{"f":5,"t":13,"v":9},{"f":5,"t":14,"v":7},
{"f":4,"t":1,"v":10},{"f":4,"t":2,"v":10},{"f":4,"t":3,"v":10},{"f":4,"t":4,"v":0},{"f":4,"t":5,"v":10},{"f":4,"t":6,"v":10},{"f":4,"t":7,"v":10},{"f":4,"t":8,"v":10},{"f":4,"t":9,"v":10},{"f":4,"t":10,"v":10},{"f":4,"t":11,"v":10},{"f":4,"t":12,"v":10},{"f":4,"t":13,"v":10},{"f":4,"t":14,"v":10},
{"f":3,"t":1,"v":5},{"f":3,"t":2,"v":5},{"f":3,"t":3,"v":0},{"f":3,"t":4,"v":5},{"f":3,"t":5,"v":6},{"f":3,"t":6,"v":5},{"f":3,"t":7,"v":5},{"f":3,"t":8,"v":5},{"f":3,"t":9,"v":5},{"f":3,"t":10,"v":6},{"f":3,"t":11,"v":6},{"f":3,"t":12,"v":6},{"f":3,"t":13,"v":6},{"f":3,"t":14,"v":6},
{"f":2,"t":1,"v":5},{"f":2,"t":2,"v":0},{"f":2,"t":3,"v":5},{"f":2,"t":4,"v":5},{"f":2,"t":5,"v":5},{"f":2,"t":6,"v":6},{"f":2,"t":7,"v":6},{"f":2,"t":8,"v":5},{"f":2,"t":9,"v":5},{"f":2,"t":10,"v":6},{"f":2,"t":11,"v":6},{"f":2,"t":12,"v":6},{"f":2,"t":13,"v":6},{"f":2,"t":14,"v":6},
{"f":1,"t":1,"v":0},{"f":1,"t":2,"v":2},{"f":1,"t":3,"v":2},{"f":1,"t":4,"v":3},{"f":1,"t":5,"v":3},{"f":1,"t":6,"v":3},{"f":1,"t":7,"v":4},{"f":1,"t":8,"v":4},{"f":1,"t":9,"v":4},{"f":1,"t":10,"v":4},{"f":1,"t":11,"v":4},{"f":1,"t":12,"v":4},{"f":1,"t":13,"v":4},{"f":1,"t":14,"v":4}],
"b3":[
{"f":14,"t":1,"v":25},{"f":14,"t":2,"v":25},{"f":14,"t":3,"v":25},{"f":14,"t":4,"v":25},{"f":14,"t":5,"v":25},{"f":14,"t":6,"v":25},{"f":14,"t":7,"v":23},{"f":14,"t":8,"v":23},{"f":14,"t":9,"v":25},{"f":14,"t":10,"v":25},{"f":14,"t":11,"v":25},{"f":14,"t":12,"v":25},{"f":14,"t":13,"v":25},{"f":14,"t":14,"v":0},
{"f":13,"t":1,"v":25},{"f":13,"t":2,"v":25},{"f":13,"t":3,"v":25},{"f":13,"t":4,"v":25},{"f":13,"t":5,"v":25},{"f":13,"t":6,"v":25},{"f":13,"t":7,"v":25},{"f":13,"t":8,"v":25},{"f":13,"t":9,"v":25},{"f":13,"t":10,"v":25},{"f":13,"t":11,"v":25},{"f":13,"t":12,"v":25},{"f":13,"t":13,"v":0},{"f":13,"t":14,"v":25},
{"f":12,"t":1,"v":25},{"f":12,"t":2,"v":25},{"f":12,"t":3,"v":25},{"f":12,"t":4,"v":25},{"f":12,"t":5,"v":25},{"f":12,"t":6,"v":25},{"f":12,"t":7,"v":25},{"f":12,"t":8,"v":25},{"f":12,"t":9,"v":25},{"f":12,"t":10,"v":25},{"f":12,"t":11,"v":25},{"f":12,"t":12,"v":0},{"f":12,"t":13,"v":25},{"f":12,"t":14,"v":25},
{"f":11,"t":1,"v":25},{"f":11,"t":2,"v":25},{"f":11,"t":3,"v":25},{"f":11,"t":4,"v":25},{"f":11,"t":5,"v":25},{"f":11,"t":6,"v":25},{"f":11,"t":7,"v":25},{"f":11,"t":8,"v":23},{"f":11,"t":9,"v":23},{"f":11,"t":10,"v":25},{"f":11,"t":11,"v":0},{"f":11,"t":12,"v":25},{"f":11,"t":13,"v":25},{"f":11,"t":14,"v":25},
{"f":10,"t":1,"v":25},{"f":10,"t":2,"v":25},{"f":10,"t":3,"v":25},{"f":10,"t":4,"v":23},{"f":10,"t":5,"v":25},{"f":10,"t":6,"v":25},{"f":10,"t":7,"v":22},{"f":10,"t":8,"v":25},{"f":10,"t":9,"v":21},{"f":10,"t":10,"v":0},{"f":10,"t":11,"v":25},{"f":10,"t":12,"v":23},{"f":10,"t":13,"v":23},{"f":10,"t":14,"v":25},
{"f":9,"t":1,"v":14},{"f":9,"t":2,"v":15},{"f":9,"t":3,"v":15},{"f":9,"t":4,"v":11},{"f":9,"t":5,"v":14},{"f":9,"t":6,"v":14},{"f":9,"t":7,"v":14},{"f":9,"t":8,"v":14},{"f":9,"t":9,"v":0},{"f":9,"t":10,"v":14},{"f":9,"t":11,"v":14},{"f":9,"t":12,"v":14},{"f":9,"t":13,"v":14},{"f":9,"t":14,"v":14},
{"f":8,"t":1,"v":16},{"f":8,"t":2,"v":16},{"f":8,"t":3,"v":18},{"f":8,"t":4,"v":13},{"f":8,"t":5,"v":16},{"f":8,"t":6,"v":16},{"f":8,"t":7,"v":16},{"f":8,"t":8,"v":0},{"f":8,"t":9,"v":16},{"f":8,"t":10,"v":15},{"f":8,"t":11,"v":15},{"f":8,"t":12,"v":15},{"f":8,"t":13,"v":15},{"f":8,"t":14,"v":15},
{"f":7,"t":1,"v":15},{"f":7,"t":2,"v":15},{"f":7,"t":3,"v":15},{"f":7,"t":4,"v":13},{"f":7,"t":5,"v":15},{"f":7,"t":6,"v":15},{"f":7,"t":7,"v":0},{"f":7,"t":8,"v":15},{"f":7,"t":9,"v":15},{"f":7,"t":10,"v":15},{"f":7,"t":11,"v":15},{"f":7,"t":12,"v":15},{"f":7,"t":13,"v":15},{"f":7,"t":14,"v":15},
{"f":6,"t":1,"v":6},{"f":6,"t":2,"v":6},{"f":6,"t":3,"v":3},{"f":6,"t":4,"v":6},{"f":6,"t":5,"v":6},{"f":6,"t":6,"v":0},{"f":6,"t":7,"v":6},{"f":6,"t":8,"v":6},{"f":6,"t":9,"v":6},{"f":6,"t":10,"v":6},{"f":6,"t":11,"v":6},{"f":6,"t":12,"v":6},{"f":6,"t":13,"v":6},{"f":6,"t":14,"v":6},
{"f":5,"t":1,"v":6},{"f":5,"t":2,"v":4},{"f":5,"t":3,"v":6},{"f":5,"t":4,"v":6},{"f":5,"t":5,"v":0},{"f":5,"t":6,"v":6},{"f":5,"t":7,"v":5},{"f":5,"t":8,"v":6},{"f":5,"t":9,"v":6},{"f":5,"t":10,"v":6},{"f":5,"t":11,"v":6},{"f":5,"t":12,"v":6},{"f":5,"t":13,"v":6},{"f":5,"t":14,"v":6},
{"f":4,"t":1,"v":10},{"f":4,"t":2,"v":11},{"f":4,"t":3,"v":11},{"f":4,"t":4,"v":0},{"f":4,"t":5,"v":10},{"f":4,"t":6,"v":10},{"f":4,"t":7,"v":10},{"f":4,"t":8,"v":10},{"f":4,"t":9,"v":10},{"f":4,"t":10,"v":10},{"f":4,"t":11,"v":10},{"f":4,"t":12,"v":11},{"f":4,"t":13,"v":11},{"f":4,"t":14,"v":10},
{"f":3,"t":1,"v":6},{"f":3,"t":2,"v":6},{"f":3,"t":3,"v":0},{"f":3,"t":4,"v":5},{"f":3,"t":5,"v":6},{"f":3,"t":6,"v":5},{"f":3,"t":7,"v":6},{"f":3,"t":8,"v":6},{"f":3,"t":9,"v":6},{"f":3,"t":10,"v":6},{"f":3,"t":11,"v":6},{"f":3,"t":12,"v":6},{"f":3,"t":13,"v":6},{"f":3,"t":14,"v":6},
{"f":2,"t":1,"v":6},{"f":2,"t":2,"v":0},{"f":2,"t":3,"v":6},{"f":2,"t":4,"v":5},{"f":2,"t":5,"v":5},{"f":2,"t":6,"v":6},{"f":2,"t":7,"v":6},{"f":2,"t":8,"v":6},{"f":2,"t":9,"v":6},{"f":2,"t":10,"v":6},{"f":2,"t":11,"v":6},{"f":2,"t":12,"v":6},{"f":2,"t":13,"v":7},{"f":2,"t":14,"v":6},
{"f":1,"t":1,"v":0},{"f":1,"t":2,"v":3},{"f":1,"t":3,"v":3},{"f":1,"t":4,"v":4},{"f":1,"t":5,"v":4},{"f":1,"t":6,"v":4},{"f":1,"t":7,"v":4},{"f":1,"t":8,"v":4},{"f":1,"t":9,"v":4},{"f":1,"t":10,"v":5},{"f":1,"t":11,"v":5},{"f":1,"t":12,"v":5},{"f":1,"t":13,"v":5},{"f":1,"t":14,"v":5}],
"b4":[
{"f":14,"t":1,"v":25},{"f":14,"t":2,"v":25},{"f":14,"t":3,"v":25},{"f":14,"t":4,"v":25},{"f":14,"t":5,"v":25},{"f":14,"t":6,"v":25},{"f":14,"t":7,"v":25},{"f":14,"t":8,"v":25},{"f":14,"t":9,"v":25},{"f":14,"t":10,"v":25},{"f":14,"t":11,"v":25},{"f":14,"t":12,"v":25},{"f":14,"t":13,"v":25},{"f":14,"t":14,"v":0},
{"f":13,"t":1,"v":25},{"f":13,"t":2,"v":25},{"f":13,"t":3,"v":25},{"f":13,"t":4,"v":25},{"f":13,"t":5,"v":25},{"f":13,"t":6,"v":25},{"f":13,"t":7,"v":25},{"f":13,"t":8,"v":25},{"f":13,"t":9,"v":25},{"f":13,"t":10,"v":25},{"f":13,"t":11,"v":25},{"f":13,"t":12,"v":25},{"f":13,"t":13,"v":0},{"f":13,"t":14,"v":25},
{"f":12,"t":1,"v":25},{"f":12,"t":2,"v":25},{"f":12,"t":3,"v":25},{"f":12,"t":4,"v":25},{"f":12,"t":5,"v":25},{"f":12,"t":6,"v":25},{"f":12,"t":7,"v":25},{"f":12,"t":8,"v":25},{"f":12,"t":9,"v":25},{"f":12,"t":10,"v":25},{"f":12,"t":11,"v":25},{"f":12,"t":12,"v":0},{"f":12,"t":13,"v":25},{"f":12,"t":14,"v":25},
{"f":11,"t":1,"v":25},{"f":11,"t":2,"v":25},{"f":11,"t":3,"v":25},{"f":11,"t":4,"v":25},{"f":11,"t":5,"v":25},{"f":11,"t":6,"v":25},{"f":11,"t":7,"v":25},{"f":11,"t":8,"v":25},{"f":11,"t":9,"v":25},{"f":11,"t":10,"v":25},{"f":11,"t":11,"v":0},{"f":11,"t":12,"v":25},{"f":11,"t":13,"v":25},{"f":11,"t":14,"v":25},
{"f":10,"t":1,"v":25},{"f":10,"t":2,"v":25},{"f":10,"t":3,"v":25},{"f":10,"t":4,"v":25},{"f":10,"t":5,"v":25},{"f":10,"t":6,"v":25},{"f":10,"t":7,"v":25},{"f":10,"t":8,"v":25},{"f":10,"t":9,"v":25},{"f":10,"t":10,"v":0},{"f":10,"t":11,"v":25},{"f":10,"t":12,"v":25},{"f":10,"t":13,"v":25},{"f":10,"t":14,"v":25},
{"f":9,"t":1,"v":25},{"f":9,"t":2,"v":25},{"f":9,"t":3,"v":25},{"f":9,"t":4,"v":25},{"f":9,"t":5,"v":25},{"f":9,"t":6,"v":25},{"f":9,"t":7,"v":25},{"f":9,"t":8,"v":25},{"f":9,"t":9,"v":0},{"f":9,"t":10,"v":25},{"f":9,"t":11,"v":25},{"f":9,"t":12,"v":25},{"f":9,"t":13,"v":25},{"f":9,"t":14,"v":25},
{"f":8,"t":1,"v":25},{"f":8,"t":2,"v":25},{"f":8,"t":3,"v":25},{"f":8,"t":4,"v":25},{"f":8,"t":5,"v":25},{"f":8,"t":6,"v":25},{"f":8,"t":7,"v":25},{"f":8,"t":8,"v":0},{"f":8,"t":9,"v":25},{"f":8,"t":10,"v":25},{"f":8,"t":11,"v":25},{"f":8,"t":12,"v":25},{"f":8,"t":13,"v":25},{"f":8,"t":14,"v":25},
{"f":7,"t":1,"v":23},{"f":7,"t":2,"v":23},{"f":7,"t":3,"v":23},{"f":7,"t":4,"v":23},{"f":7,"t":5,"v":22},{"f":7,"t":6,"v":23},{"f":7,"t":7,"v":0},{"f":7,"t":8,"v":24},{"f":7,"t":9,"v":24},{"f":7,"t":10,"v":22},{"f":7,"t":11,"v":23},{"f":7,"t":12,"v":22},{"f":7,"t":13,"v":22},{"f":7,"t":14,"v":22},
{"f":6,"t":1,"v":8},{"f":6,"t":2,"v":9},{"f":6,"t":3,"v":8},{"f":6,"t":4,"v":9},{"f":6,"t":5,"v":8},{"f":6,"t":6,"v":0},{"f":6,"t":7,"v":8},{"f":6,"t":8,"v":7},{"f":6,"t":9,"v":7},{"f":6,"t":10,"v":7},{"f":6,"t":11,"v":6},{"f":6,"t":12,"v":6},{"f":6,"t":13,"v":8},{"f":6,"t":14,"v":7},
{"f":5,"t":1,"v":6},{"f":5,"t":2,"v":6},{"f":5,"t":3,"v":8},{"f":5,"t":4,"v":8},{"f":5,"t":5,"v":0},{"f":5,"t":6,"v":8},{"f":5,"t":7,"v":6},{"f":5,"t":8,"v":7},{"f":5,"t":9,"v":8},{"f":5,"t":10,"v":6},{"f":5,"t":11,"v":8},{"f":5,"t":12,"v":6},{"f":5,"t":13,"v":6},{"f":5,"t":14,"v":6},
{"f":4,"t":1,"v":10},{"f":4,"t":2,"v":9},{"f":4,"t":3,"v":9},{"f":4,"t":4,"v":0},{"f":4,"t":5,"v":10},{"f":4,"t":6,"v":10},{"f":4,"t":7,"v":10},{"f":4,"t":8,"v":10},{"f":4,"t":9,"v":10},{"f":4,"t":10,"v":10},{"f":4,"t":11,"v":10},{"f":4,"t":12,"v":10},{"f":4,"t":13,"v":10},{"f":4,"t":14,"v":10},
{"f":3,"t":1,"v":3},{"f":3,"t":2,"v":4},{"f":3,"t":3,"v":0},{"f":3,"t":4,"v":3},{"f":3,"t":5,"v":4},{"f":3,"t":6,"v":4},{"f":3,"t":7,"v":3},{"f":3,"t":8,"v":4},{"f":3,"t":9,"v":3},{"f":3,"t":10,"v":4},{"f":3,"t":11,"v":4},{"f":3,"t":12,"v":5},{"f":3,"t":13,"v":5},{"f":3,"t":14,"v":5},
{"f":2,"t":1,"v":3},{"f":2,"t":2,"v":0},{"f":2,"t":3,"v":4},{"f":2,"t":4,"v":3},{"f":2,"t":5,"v":4},{"f":2,"t":6,"v":4},{"f":2,"t":7,"v":4},{"f":2,"t":8,"v":3},{"f":2,"t":9,"v":3},{"f":2,"t":10,"v":4},{"f":2,"t":11,"v":4},{"f":2,"t":12,"v":5},{"f":2,"t":13,"v":5},{"f":2,"t":14,"v":5},
{"f":1,"t":1,"v":0},{"f":1,"t":2,"v":1},{"f":1,"t":3,"v":1},{"f":1,"t":4,"v":2},{"f":1,"t":5,"v":2},{"f":1,"t":6,"v":2},{"f":1,"t":7,"v":3},{"f":1,"t":8,"v":3},{"f":1,"t":9,"v":2},{"f":1,"t":10,"v":3},{"f":1,"t":11,"v":3},{"f":1,"t":12,"v":3},{"f":1,"t":13,"v":3},{"f":1,"t":14,"v":3}]},
"vconcat":[
{"spacing":12,"hconcat":[{"spacing":13,"hconcat":[
{"width":259,"height":252,"title":{"text":"Tess","subtitle":"m=20.05, sd=15.56","subtitlePadding":46,"offset":-49},"layer":[
{"data":{"name":"a1"},"mark":{"type":"rect","width":19.2,"height":18.4,"clip":true},"encoding":{"x":{"field":"t","type":"quantitative","scale":{"domain":[0.5,14.5],"nice":false,"zero":false},"axis":null},"y":{"field":"f","type":"quantitative","scale":{"domain":[0.5,14.5],"nice":false,"zero":false},"axis":{"title":"From Model","labels":false,"ticks":false,"domain":false,"grid":false,"titleFont":"DejaVu Sans","titleFontSize":26,"titleFontWeight":"normal","titlePadding":62}},"color":{"field":"v","type":"quantitative","legend":null,"scale":{"type":"quantize","domain":[0,25],"range":["#FFFFF8","#FFFFDB","#FFFFBF","#FFFF95","#FFFF6A","#FFFF35","#FFFF00","#FFF300","#FFE600","#FFDA00","#FFCD00","#FFC100","#FFB500","#FFA800","#FF9C00","#FF8F00","#FF8300","#FF7700","#FF6A00","#FF5E00","#FF5100","#FF4500","#FF3900","#FF2C00","#FF2000"]}}}},
{"data":{"name":"m"},"mark":{"type":"point","filled":false,"size":320,"strokeWidth":1.5,"stroke":"#e2e2e2","shape":"M.9,0A.9,.9,0,1,1,-.9,0A.9,.9,0,1,1,.9,0ZM0,-.9L.78,.45L-.78,.45Z"},"encoding":{"x":{"field":"m","type":"quantitative"},"y":{"datum":-0.08}}},
{"data":{"name":"m"},"mark":{"type":"point","filled":false,"size":320,"strokeWidth":1.6,"stroke":"#000"},"encoding":{"x":{"field":"m","type":"quantitative"},"y":{"datum":-0.08},"shape":{"field":"m","type":"nominal","legend":null}}},
{"data":{"name":"m"},"mark":{"type":"point","filled":false,"size":320,"strokeWidth":1.5,"stroke":"#e2e2e2","shape":"M.9,0A.9,.9,0,1,1,-.9,0A.9,.9,0,1,1,.9,0ZM0,-.9L.78,.45L-.78,.45Z"},"encoding":{"y":{"field":"m","type":"quantitative"},"x":{"datum":-0.2}}},
{"data":{"name":"m"},"mark":{"type":"point","filled":false,"size":320,"strokeWidth":1.6,"stroke":"#000"},"encoding":{"y":{"field":"m","type":"quantitative"},"x":{"datum":-0.2},"shape":{"field":"m","type":"nominal","legend":null}}},
{"data":{"values":[{"label":"A"}]},"mark":{"type":"text","align":"left","baseline":"middle","fontSize":27},"encoding":{"text":{"field":"label"},"x":{"datum":-4.85},"y":{"datum":16.83}}}
]},
{"spacing":11,"hconcat":[
{"width":259,"height":252,"title":{"text":"Mave","subtitle":"m=11.08, sd=4.64","subtitlePadding":46,"offset":7},"layer":[
{"data":{"name":"a2"},"mark":{"type":"rect","width":19.2,"height":18.4,"clip":true},"encoding":{"x":{"field":"t","type":"quantitative","scale":{"domain":[0.5,14.5],"nice":false,"zero":false},"axis":null},"y":{"field":"f","type":"quantitative","scale":{"domain":[0.5,14.5],"nice":false,"zero":false},"axis":null},"color":{"field":"v","type":"quantitative","legend":null,"scale":{"type":"quantize","domain":[0,25],"range":["#FFFFF8","#FFFFDB","#FFFFBF","#FFFF95","#FFFF6A","#FFFF35","#FFFF00","#FFF300","#FFE600","#FFDA00","#FFCD00","#FFC100","#FFB500","#FFA800","#FF9C00","#FF8F00","#FF8300","#FF7700","#FF6A00","#FF5E00","#FF5100","#FF4500","#FF3900","#FF2C00","#FF2000"]}}}},
{"data":{"name":"m"},"mark":{"type":"point","filled":false,"size":320,"strokeWidth":1.5,"stroke":"#e2e2e2","shape":"M.9,0A.9,.9,0,1,1,-.9,0A.9,.9,0,1,1,.9,0ZM0,-.9L.78,.45L-.78,.45Z"},"encoding":{"x":{"field":"m","type":"quantitative"},"y":{"datum":-0.08}}},
{"data":{"name":"m"},"mark":{"type":"point","filled":false,"size":320,"strokeWidth":1.6,"stroke":"#000"},"encoding":{"x":{"field":"m","type":"quantitative"},"y":{"datum":-0.08},"shape":{"field":"m","type":"nominal","legend":null}}}
]},
{"width":259,"height":252,"title":{"text":"Bo","subtitle":"m=9.85, sd=3.35","subtitlePadding":46,"offset":7},"layer":[
{"data":{"name":"a3"},"mark":{"type":"rect","width":19.2,"height":18.4,"clip":true},"encoding":{"x":{"field":"t","type":"quantitative","scale":{"domain":[0.5,14.5],"nice":false,"zero":false},"axis":null},"y":{"field":"f","type":"quantitative","scale":{"domain":[0.5,14.5],"nice":false,"zero":false},"axis":null},"color":{"field":"v","type":"quantitative","legend":null,"scale":{"type":"quantize","domain":[0,25],"range":["#FFFFF8","#FFFFDB","#FFFFBF","#FFFF95","#FFFF6A","#FFFF35","#FFFF00","#FFF300","#FFE600","#FFDA00","#FFCD00","#FFC100","#FFB500","#FFA800","#FF9C00","#FF8F00","#FF8300","#FF7700","#FF6A00","#FF5E00","#FF5100","#FF4500","#FF3900","#FF2C00","#FF2000"]}}}},
{"data":{"name":"m"},"mark":{"type":"point","filled":false,"size":320,"strokeWidth":1.5,"stroke":"#e2e2e2","shape":"M.9,0A.9,.9,0,1,1,-.9,0A.9,.9,0,1,1,.9,0ZM0,-.9L.78,.45L-.78,.45Z"},"encoding":{"x":{"field":"m","type":"quantitative"},"y":{"datum":-0.08}}},
{"data":{"name":"m"},"mark":{"type":"point","filled":false,"size":320,"strokeWidth":1.6,"stroke":"#000"},"encoding":{"x":{"field":"m","type":"quantitative"},"y":{"datum":-0.08},"shape":{"field":"m","type":"nominal","legend":null}}}
]},
{"width":259,"height":252,"title":{"text":"All","subtitle":"m=11.18, sd=5.78","subtitlePadding":46,"offset":7},"layer":[
{"data":{"name":"a4"},"mark":{"type":"rect","width":19.2,"height":18.4,"clip":true},"encoding":{"x":{"field":"t","type":"quantitative","scale":{"domain":[0.5,14.5],"nice":false,"zero":false},"axis":null},"y":{"field":"f","type":"quantitative","scale":{"domain":[0.5,14.5],"nice":false,"zero":false},"axis":null},"color":{"field":"v","type":"quantitative","legend":null,"scale":{"type":"quantize","domain":[0,25],"range":["#FFFFF8","#FFFFDB","#FFFFBF","#FFFF95","#FFFF6A","#FFFF35","#FFFF00","#FFF300","#FFE600","#FFDA00","#FFCD00","#FFC100","#FFB500","#FFA800","#FF9C00","#FF8F00","#FF8300","#FF7700","#FF6A00","#FF5E00","#FF5100","#FF4500","#FF3900","#FF2C00","#FF2000"]}}}},
{"data":{"name":"m"},"mark":{"type":"point","filled":false,"size":320,"strokeWidth":1.5,"stroke":"#e2e2e2","shape":"M.9,0A.9,.9,0,1,1,-.9,0A.9,.9,0,1,1,.9,0ZM0,-.9L.78,.45L-.78,.45Z"},"encoding":{"x":{"field":"m","type":"quantitative"},"y":{"datum":-0.08}}},
{"data":{"name":"m"},"mark":{"type":"point","filled":false,"size":320,"strokeWidth":1.6,"stroke":"#000"},"encoding":{"x":{"field":"m","type":"quantitative"},"y":{"datum":-0.08},"shape":{"field":"m","type":"nominal","legend":null}}}
]}
]}
]},
{"width":40,"height":252,"data":{"name":"bar"},"mark":{"type":"rect","strokeWidth":0.5,"clip":true},"encoding":{"y":{"field":"lo","type":"quantitative","scale":{"domain":[0,25],"nice":false},"axis":{"orient":"right","title":null,"values":[0,5,10,15,20,25],"grid":false,"domain":false,"tickSize":10,"tickColor":"#000","tickWidth":1.5,"labelFont":"Liberation Sans","labelFontSize":21,"labelColor":"#000","labelPadding":8}},"y2":{"field":"hi"},"color":{"field":"lo","type":"quantitative","legend":null,"scale":{"type":"quantize","domain":[0,25],"range":["#FFFFF8","#FFFFDB","#FFFFBF","#FFFF95","#FFFF6A","#FFFF35","#FFFF00","#FFF300","#FFE600","#FFDA00","#FFCD00","#FFC100","#FFB500","#FFA800","#FF9C00","#FF8F00","#FF8300","#FF7700","#FF6A00","#FF5E00","#FF5100","#FF4500","#FF3900","#FF2C00","#FF2000"]}},"stroke":{"field":"lo","type":"quantitative","legend":null,"scale":{"type":"quantize","domain":[0,25],"range":["#FFFFF8","#FFFFDB","#FFFFBF","#FFFF95","#FFFF6A","#FFFF35","#FFFF00","#FFF300","#FFE600","#FFDA00","#FFCD00","#FFC100","#FFB500","#FFA800","#FF9C00","#FF8F00","#FF8300","#FF7700","#FF6A00","#FF5E00","#FF5100","#FF4500","#FF3900","#FF2C00","#FF2000"]}}}}
]},
{"spacing":12,"hconcat":[{"spacing":13,"hconcat":[
{"width":259,"height":251,"title":{"text":"m=90.44, sd=128.56","fontSize":18.3,"offset":-48},"layer":[
{"data":{"name":"b1"},"mark":{"type":"rect","width":19.2,"height":18.4,"clip":true},"encoding":{"x":{"field":"t","type":"quantitative","scale":{"domain":[0.5,14.5],"nice":false,"zero":false},"axis":null},"y":{"field":"f","type":"quantitative","scale":{"domain":[0.5,14.5],"nice":false,"zero":false},"axis":{"title":"From Model","labels":false,"ticks":false,"domain":false,"grid":false,"titleFont":"DejaVu Sans","titleFontSize":26,"titleFontWeight":"normal","titlePadding":62,"titleY":139.5}},"color":{"field":"v","type":"quantitative","legend":null,"scale":{"type":"quantize","domain":[0,25],"range":["#FFFFF8","#FFFFDB","#FFFFBF","#FFFF95","#FFFF6A","#FFFF35","#FFFF00","#FFF300","#FFE600","#FFDA00","#FFCD00","#FFC100","#FFB500","#FFA800","#FF9C00","#FF8F00","#FF8300","#FF7700","#FF6A00","#FF5E00","#FF5100","#FF4500","#FF3900","#FF2C00","#FF2000"]}}}},
{"data":{"name":"m"},"mark":{"type":"point","filled":false,"size":320,"strokeWidth":1.5,"stroke":"#e2e2e2","shape":"M.9,0A.9,.9,0,1,1,-.9,0A.9,.9,0,1,1,.9,0ZM0,-.9L.78,.45L-.78,.45Z"},"encoding":{"x":{"field":"m","type":"quantitative"},"y":{"datum":-0.08}}},
{"data":{"name":"m"},"mark":{"type":"point","filled":false,"size":320,"strokeWidth":1.6,"stroke":"#000"},"encoding":{"x":{"field":"m","type":"quantitative"},"y":{"datum":-0.08},"shape":{"field":"m","type":"nominal","legend":null}}},
{"data":{"name":"m"},"mark":{"type":"point","filled":false,"size":320,"strokeWidth":1.5,"stroke":"#e2e2e2","shape":"M.9,0A.9,.9,0,1,1,-.9,0A.9,.9,0,1,1,.9,0ZM0,-.9L.78,.45L-.78,.45Z"},"encoding":{"y":{"field":"m","type":"quantitative"},"x":{"datum":-0.2}}},
{"data":{"name":"m"},"mark":{"type":"point","filled":false,"size":320,"strokeWidth":1.6,"stroke":"#000"},"encoding":{"y":{"field":"m","type":"quantitative"},"x":{"datum":-0.2},"shape":{"field":"m","type":"nominal","legend":null}}},
{"data":{"values":[{"label":"B"}]},"mark":{"type":"text","align":"left","baseline":"middle","fontSize":27},"encoding":{"text":{"field":"label"},"x":{"datum":-4.64},"y":{"datum":17.06}}}
]},
{"spacing":11,"hconcat":[
{"width":259,"height":251,"title":{"text":"m=30.96, sd=41.97","fontSize":18.3,"offset":11},"layer":[
{"data":{"name":"b2"},"mark":{"type":"rect","width":19.2,"height":18.4,"clip":true},"encoding":{"x":{"field":"t","type":"quantitative","scale":{"domain":[0.5,14.5],"nice":false,"zero":false},"axis":null},"y":{"field":"f","type":"quantitative","scale":{"domain":[0.5,14.5],"nice":false,"zero":false},"axis":null},"color":{"field":"v","type":"quantitative","legend":null,"scale":{"type":"quantize","domain":[0,25],"range":["#FFFFF8","#FFFFDB","#FFFFBF","#FFFF95","#FFFF6A","#FFFF35","#FFFF00","#FFF300","#FFE600","#FFDA00","#FFCD00","#FFC100","#FFB500","#FFA800","#FF9C00","#FF8F00","#FF8300","#FF7700","#FF6A00","#FF5E00","#FF5100","#FF4500","#FF3900","#FF2C00","#FF2000"]}}}},
{"data":{"name":"m"},"mark":{"type":"point","filled":false,"size":320,"strokeWidth":1.5,"stroke":"#e2e2e2","shape":"M.9,0A.9,.9,0,1,1,-.9,0A.9,.9,0,1,1,.9,0ZM0,-.9L.78,.45L-.78,.45Z"},"encoding":{"x":{"field":"m","type":"quantitative"},"y":{"datum":-0.08}}},
{"data":{"name":"m"},"mark":{"type":"point","filled":false,"size":320,"strokeWidth":1.6,"stroke":"#000"},"encoding":{"x":{"field":"m","type":"quantitative"},"y":{"datum":-0.08},"shape":{"field":"m","type":"nominal","legend":null}}}
]},
{"width":259,"height":251,"title":{"text":"m=12.23, sd=14.77","fontSize":18.3,"offset":11},"layer":[
{"data":{"name":"b3"},"mark":{"type":"rect","width":19.2,"height":18.4,"clip":true},"encoding":{"x":{"field":"t","type":"quantitative","scale":{"domain":[0.5,14.5],"nice":false,"zero":false},"axis":null},"y":{"field":"f","type":"quantitative","scale":{"domain":[0.5,14.5],"nice":false,"zero":false},"axis":null},"color":{"field":"v","type":"quantitative","legend":null,"scale":{"type":"quantize","domain":[0,25],"range":["#FFFFF8","#FFFFDB","#FFFFBF","#FFFF95","#FFFF6A","#FFFF35","#FFFF00","#FFF300","#FFE600","#FFDA00","#FFCD00","#FFC100","#FFB500","#FFA800","#FF9C00","#FF8F00","#FF8300","#FF7700","#FF6A00","#FF5E00","#FF5100","#FF4500","#FF3900","#FF2C00","#FF2000"]}}}},
{"data":{"name":"m"},"mark":{"type":"point","filled":false,"size":320,"strokeWidth":1.5,"stroke":"#e2e2e2","shape":"M.9,0A.9,.9,0,1,1,-.9,0A.9,.9,0,1,1,.9,0ZM0,-.9L.78,.45L-.78,.45Z"},"encoding":{"x":{"field":"m","type":"quantitative"},"y":{"datum":-0.08}}},
{"data":{"name":"m"},"mark":{"type":"point","filled":false,"size":320,"strokeWidth":1.6,"stroke":"#000"},"encoding":{"x":{"field":"m","type":"quantitative"},"y":{"datum":-0.08},"shape":{"field":"m","type":"nominal","legend":null}}}
]},
{"width":259,"height":251,"title":{"text":"m=36.78, sd=46.92","fontSize":18.3,"offset":11},"layer":[
{"data":{"name":"b4"},"mark":{"type":"rect","width":19.2,"height":18.4,"clip":true},"encoding":{"x":{"field":"t","type":"quantitative","scale":{"domain":[0.5,14.5],"nice":false,"zero":false},"axis":null},"y":{"field":"f","type":"quantitative","scale":{"domain":[0.5,14.5],"nice":false,"zero":false},"axis":null},"color":{"field":"v","type":"quantitative","legend":null,"scale":{"type":"quantize","domain":[0,25],"range":["#FFFFF8","#FFFFDB","#FFFFBF","#FFFF95","#FFFF6A","#FFFF35","#FFFF00","#FFF300","#FFE600","#FFDA00","#FFCD00","#FFC100","#FFB500","#FFA800","#FF9C00","#FF8F00","#FF8300","#FF7700","#FF6A00","#FF5E00","#FF5100","#FF4500","#FF3900","#FF2C00","#FF2000"]}}}},
{"data":{"name":"m"},"mark":{"type":"point","filled":false,"size":320,"strokeWidth":1.5,"stroke":"#e2e2e2","shape":"M.9,0A.9,.9,0,1,1,-.9,0A.9,.9,0,1,1,.9,0ZM0,-.9L.78,.45L-.78,.45Z"},"encoding":{"x":{"field":"m","type":"quantitative"},"y":{"datum":-0.08}}},
{"data":{"name":"m"},"mark":{"type":"point","filled":false,"size":320,"strokeWidth":1.6,"stroke":"#000"},"encoding":{"x":{"field":"m","type":"quantitative"},"y":{"datum":-0.08},"shape":{"field":"m","type":"nominal","legend":null}}}
]}
]}
]},
{"width":40,"height":251,"data":{"name":"bar"},"mark":{"type":"rect","strokeWidth":0.5,"clip":true},"encoding":{"y":{"field":"lo","type":"quantitative","scale":{"domain":[0,25],"nice":false},"axis":{"orient":"right","title":null,"values":[0,5,10,15,20,25],"grid":false,"domain":false,"tickSize":10,"tickColor":"#000","tickWidth":1.5,"labelFont":"Liberation Sans","labelFontSize":21,"labelColor":"#000","labelPadding":8}},"y2":{"field":"hi"},"color":{"field":"lo","type":"quantitative","legend":null,"scale":{"type":"quantize","domain":[0,25],"range":["#FFFFF8","#FFFFDB","#FFFFBF","#FFFF95","#FFFF6A","#FFFF35","#FFFF00","#FFF300","#FFE600","#FFDA00","#FFCD00","#FFC100","#FFB500","#FFA800","#FF9C00","#FF8F00","#FF8300","#FF7700","#FF6A00","#FF5E00","#FF5100","#FF4500","#FF3900","#FF2C00","#FF2000"]}},"stroke":{"field":"lo","type":"quantitative","legend":null,"scale":{"type":"quantize","domain":[0,25],"range":["#FFFFF8","#FFFFDB","#FFFFBF","#FFFF95","#FFFF6A","#FFFF35","#FFFF00","#FFF300","#FFE600","#FFDA00","#FFCD00","#FFC100","#FFB500","#FFA800","#FF9C00","#FF8F00","#FF8300","#FF7700","#FF6A00","#FF5E00","#FF5100","#FF4500","#FF3900","#FF2C00","#FF2000"]}}}}
]},
{"width":1090,"height":40,"view":{"stroke":null},"layer":[
{"data":{"values":[{"label":"To True Model"}]},"mark":{"type":"text","align":"center","baseline":"middle","fontSize":25.5},"encoding":{"text":{"field":"label"},"x":{"datum":0.534,"scale":{"domain":[0,1],"nice":false},"axis":null},"y":{"datum":-0.175,"scale":{"domain":[0,1],"nice":false},"axis":null}}},
{"data":{"values":[{"label":"S38 Figure. The confusion matrices for model recovery"}]},"mark":{"type":"text","align":"left","baseline":"alphabetic","font":"DejaVu Serif","fontWeight":"bold","fontSize":24},"encoding":{"text":{"field":"label"},"x":{"datum":-0.089},"y":{"datum":-1.03}}}
]}
],"spacing":8}
